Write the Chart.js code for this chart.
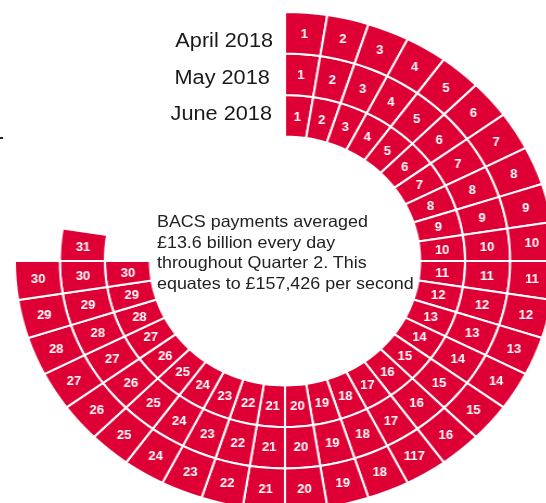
<!DOCTYPE html>
<html>
<head>
<meta charset="utf-8">
<script src="https://cdn.jsdelivr.net/npm/chart.js@4/dist/chart.umd.min.js"></script>
<style>
  html, body { margin:0; padding:0; background:#fff; }
  body { width:546px; height:503px; overflow:hidden; position:relative; font-family:"Liberation Sans", Arial, sans-serif; }
  #wrap { position:absolute; left:0; top:0; width:570px; height:522px; transform-origin:285px 261px; transform:scaleX(1.085); }
  #c { position:absolute; left:0; top:0; }
  .month { position:absolute; right:296px; font-size:20px; color:#1a1a1a; white-space:nowrap; line-height:20px; }
  #note { position:absolute; left:167px; top:211px; font-size:16.5px; line-height:20.5px; color:#222; white-space:nowrap; }
  #mark { position:absolute; left:0; top:137px; width:3px; height:2px; background:#222; }
</style>
</head>
<body>
<div id="mark"></div>
<div id="wrap">
  <canvas id="c" width="570" height="522"></canvas>
  <div class="month" style="top:30px">April 2018</div>
  <div class="month" style="top:67px; right:299px">May 2018</div>
  <div class="month" style="top:103px; right:297px">June 2018</div>
  <div id="note">BACS payments averaged<br>£13.6 billion every day<br>throughout Quarter 2. This<br>equates to £157,426 per second</div>
</div>
<script>
// Day labels per month (outer ring = April, middle = May, inner = June)
const aprilLabels = ["1","2","3","4","5","6","7","8","9","10","11","12","13","14","15","16","117","18","19","20","21","22","23","24","25","26","27","28","29","30"];
const mayLabels = ["1","2","3","4","5","6","7","8","9","10","11","12","13","14","15","16","17","18","19","20","21","22","23","24","25","26","27","28","29","30","31"];
const juneLabels = ["1","2","3","4","5","6","7","8","9","10","11","12","13","14","15","16","17","18","19","20","21","22","23","24","25","26","27","28","29","30"];

// Each day is one equal segment; the remainder of the circle is left empty
const aprilValues = [1,1,1,1,1,1,1,1,1,1,1,1,1,1,1,1,1,1,1,1,1,1,1,1,1,1,1,1,1,1];
const mayValues = [1,1,1,1,1,1,1,1,1,1,1,1,1,1,1,1,1,1,1,1,1,1,1,1,1,1,1,1,1,1,1];
const juneValues = [1,1,1,1,1,1,1,1,1,1,1,1,1,1,1,1,1,1,1,1,1,1,1,1,1,1,1,1,1,1];
const aprilGap = 10;
const mayGap = 9;
const juneGap = 10;

const RED = '#DE0034';

function ring(values, gap, labels) {
  return {
    data: values.concat([gap]),
    dayLabels: labels,
    backgroundColor: values.map(() => RED).concat(['rgba(0,0,0,0)']),
    borderColor: values.map(() => '#ffffff').concat(['rgba(0,0,0,0)']),
    borderWidth: values.map(() => 2).concat([0]),
    hoverOffset: 0
  };
}

const dayLabelPlugin = {
  id: 'dayLabels',
  afterDatasetsDraw(chart) {
    const ctx = chart.ctx;
    ctx.save();
    ctx.fillStyle = '#ffffff';
    ctx.font = 'bold 12px "Liberation Sans", Arial, sans-serif';
    ctx.textAlign = 'center';
    ctx.textBaseline = 'middle';
    chart.data.datasets.forEach((ds, di) => {
      const meta = chart.getDatasetMeta(di);
      ds.dayLabels.forEach((lab, i) => {
        const p = meta.data[i].tooltipPosition();
        ctx.fillText(lab, p.x, p.y + 1);
      });
    });
    ctx.restore();
  }
};

new Chart(document.getElementById('c'), {
  type: 'doughnut',
  data: {
    labels: mayLabels.concat(['']),
    datasets: [
      ring(aprilValues, aprilGap, aprilLabels),
      ring(mayValues, mayGap, mayLabels),
      ring(juneValues, juneGap, juneLabels)
    ]
  },
  options: {
    responsive: false,
    animation: false,
    radius: 249,
    cutout: '50%',
    rotation: 0,
    circumference: 360,
    layout: { padding: 0 },
    plugins: { legend: { display: false }, tooltip: { enabled: false } },
    events: []
  },
  plugins: [dayLabelPlugin]
});
</script>
</body>
</html>
